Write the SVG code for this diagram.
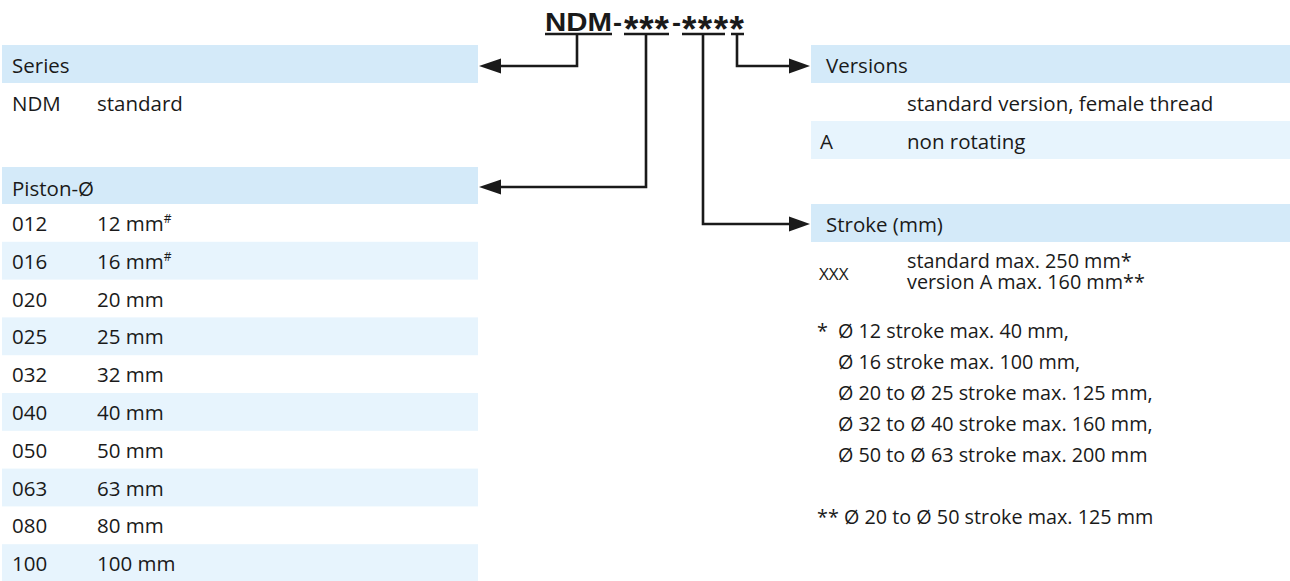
<svg xmlns="http://www.w3.org/2000/svg" width="1290" height="581" viewBox="0 0 1290 581">
<style>
.t{font-family:"Open Sans","Noto Sans",sans-serif;font-size:20.5px;fill:#1a1a1a}
.f{font-size:19.8px}
.s{font-size:17px}
.h{fill:#d4eaf9}
.r{fill:#e7f4fd}
.title{font-family:"Liberation Sans",Arial,sans-serif;font-weight:bold;font-size:26px;fill:#1a1a1a}
.star{font-size:37px}
.ln{stroke:#1a1a1a;stroke-width:2.6;fill:none}
.ah{fill:#1a1a1a}
</style>
<rect width="1290" height="581" fill="#ffffff"/>
<g id="title">
<text class="title" x="545" y="30.5" textLength="67" lengthAdjust="spacingAndGlyphs">NDM</text>
<text class="title" x="613" y="30.5" textLength="9" lengthAdjust="spacingAndGlyphs">-</text>
<text class="title star" x="624" y="42" textLength="45" lengthAdjust="spacing">***</text>
<text class="title" x="672" y="30.5" textLength="9" lengthAdjust="spacingAndGlyphs">-</text>
<text class="title star" x="682" y="42" textLength="62" lengthAdjust="spacing">****</text>
</g>
<g id="series">
<rect class="h" x="2" y="45" width="476" height="38"/>
<text class="t" x="12" y="73">Series</text>
<text class="t" x="12" y="111">NDM</text>
<text class="t" x="97" y="111">standard</text>
</g>
<g id="piston">
<rect class="h" x="2" y="167" width="476" height="37"/>
<text class="t" x="12" y="196">Piston-Ø</text>
<rect class="r" x="2" y="241.8" width="476" height="37.8"/>
<rect class="r" x="2" y="317.4" width="476" height="37.8"/>
<rect class="r" x="2" y="393" width="476" height="37.8"/>
<rect class="r" x="2" y="468.6" width="476" height="37.8"/>
<rect class="r" x="2" y="544.2" width="476" height="36.8"/>
<text class="t" x="12" y="231">012</text><text class="t" x="97" y="231">12 mm<tspan font-size="12" dy="-8">#</tspan></text>
<text class="t" x="12" y="269">016</text><text class="t" x="97" y="269">16 mm<tspan font-size="12" dy="-8">#</tspan></text>
<text class="t" x="12" y="306.5">020</text><text class="t" x="97" y="306.5">20 mm</text>
<text class="t" x="12" y="344.3">025</text><text class="t" x="97" y="344.3">25 mm</text>
<text class="t" x="12" y="382.1">032</text><text class="t" x="97" y="382.1">32 mm</text>
<text class="t" x="12" y="419.9">040</text><text class="t" x="97" y="419.9">40 mm</text>
<text class="t" x="12" y="457.7">050</text><text class="t" x="97" y="457.7">50 mm</text>
<text class="t" x="12" y="495.5">063</text><text class="t" x="97" y="495.5">63 mm</text>
<text class="t" x="12" y="533.3">080</text><text class="t" x="97" y="533.3">80 mm</text>
<text class="t" x="12" y="571.1">100</text><text class="t" x="97" y="571.1">100 mm</text>
</g>
<g id="versions">
<rect class="h" x="811" y="45" width="479" height="38"/>
<text class="t" x="826" y="73">Versions</text>
<text class="t" x="907" y="111">standard version, female thread</text>
<rect class="r" x="811" y="121" width="479" height="38"/>
<text class="t" x="820" y="149">A</text>
<text class="t" x="907" y="149">non rotating</text>
</g>
<g id="stroke">
<rect class="h" x="811" y="204" width="479" height="38"/>
<text class="t" x="826" y="232">Stroke (mm)</text>
<text class="t s" x="819" y="280">XXX</text>
<text class="t f" x="907" y="268">standard max. 250 mm*</text>
<text class="t f" x="907" y="289">version A max. 160 mm**</text>
<text class="t f" x="817" y="338">*</text>
<text class="t f" x="838" y="338">Ø 12 stroke max. 40 mm,</text>
<text class="t f" x="838" y="369">Ø 16 stroke max. 100 mm,</text>
<text class="t f" x="838" y="400">Ø 20 to Ø 25 stroke max. 125 mm,</text>
<text class="t f" x="838" y="431">Ø 32 to Ø 40 stroke max. 160 mm,</text>
<text class="t f" x="838" y="462">Ø 50 to Ø 63 stroke max. 200 mm</text>
<text class="t f" x="817" y="524">** Ø 20 to Ø 50 stroke max. 125 mm</text>
</g>
<g id="connectors">
<path class="ln" d="M545 34H612M624 34H669M682 34H725M731 34H744"/>
<path class="ln" d="M577 34V66H499"/>
<polygon class="ah" points="479,66 501,58.5 501,73.5"/>
<path class="ln" d="M646 34V187H499"/>
<polygon class="ah" points="479,187 501,179.5 501,194.5"/>
<path class="ln" d="M703 34V224H791"/>
<polygon class="ah" points="810,224 789,216.5 789,231.5"/>
<path class="ln" d="M737 34V66H791"/>
<polygon class="ah" points="810,66 789,58.5 789,73.5"/>
</g>
</svg>
